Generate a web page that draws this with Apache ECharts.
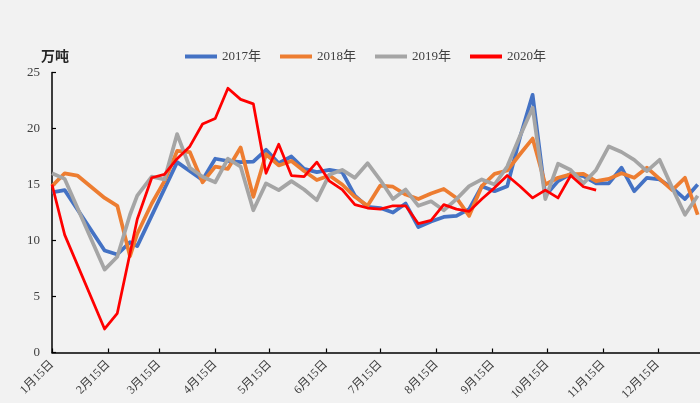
<!DOCTYPE html>
<html>
<head>
<meta charset="utf-8">
<script src="https://cdn.jsdelivr.net/npm/echarts@6/dist/echarts.min.js"></script>
<style>
html,body{margin:0;padding:0;background:#f2f2f2;}
#c{width:700px;height:403px;}
</style>
</head>
<body>
<div id="c"></div>
<script>
// day-of-year of each weekly observation
const days = [15,22,29,44,51,58,62,70,77,84,91,98,105,112,119,126,133,140,147,154,161,168,175,182,189,196,203,210,217,224,231,238,245,252,259,266,273,280,287,294,301,308,315,322,329,336,343,350,357,364,371];
const seriesNames = ['2017年','2018年','2019年','2020年'];
const v2017 = [14.3,14.5,null,9.1,8.75,9.85,9.5,null,null,17.0,null,15.4,17.3,17.1,17.0,17.05,18.1,16.9,17.5,16.4,16.1,16.3,16.1,14.0,13.0,12.9,12.5,13.3,11.2,11.7,12.1,12.2,12.8,14.85,14.4,14.85,19.2,23.0,14.0,15.3,15.95,15.75,15.1,15.1,16.5,14.4,15.6,15.45,14.7,13.7,15.0];
const v2018 = [14.85,16.0,15.8,13.8,13.1,8.6,10.6,13.3,15.3,18.0,17.9,15.2,16.6,16.4,18.3,13.9,17.7,16.7,17.1,16.2,15.4,15.8,15.0,13.9,13.1,14.9,14.8,14.1,13.7,14.2,14.6,13.8,12.2,14.85,15.95,16.25,17.7,19.1,15.0,15.6,15.9,15.95,15.3,15.5,16.0,15.6,16.5,15.5,14.5,15.6,12.3];
const v2019 = [16.0,15.5,null,7.4,8.55,12.3,14.0,15.7,15.45,19.5,16.5,15.7,15.2,17.3,16.6,12.7,15.1,14.5,15.3,14.55,13.6,15.9,16.3,15.6,16.9,15.4,13.7,14.55,13.1,13.5,12.7,13.7,14.85,15.45,15.0,16.6,19.3,21.85,13.7,16.85,16.3,15.1,16.3,18.4,17.9,17.2,16.2,17.2,14.7,12.3,14.0];
const v2020 = [15.0,10.5,null,2.1,3.5,null,11.9,15.6,15.9,17.3,18.4,20.4,20.9,23.6,22.6,22.2,16.0,18.6,15.8,15.7,17.0,15.3,14.55,13.2,12.9,12.8,13.1,13.1,11.5,11.8,13.2,12.8,12.6,13.7,14.7,15.8,14.85,13.8,14.5,13.8,15.8,14.8,14.5,null,null,null,null,null,null,null,null];
// x-axis ticks: the 15th of each month
const tickDays = [15,46,74,105,135,166,196,227,258,288,319,349];
const tickLabels = ['1月15日','2月15日','3月15日','4月15日','5月15日','6月15日','7月15日','8月15日','9月15日','10月15日','11月15日','12月15日'];
const yTicks = [0,5,10,15,20,25];
const unitLabel = '万吨';

const colors = ['#4472c4','#ed7d31','#a5a5a5','#ff0000'];
const widths = [3.75,3.75,3.75,2.75];
const FONT = "'Liberation Serif','Noto Sans CJK SC',serif";
const values = [v2017,v2018,v2019,v2020];

const chart = echarts.init(document.getElementById('c'), null, {renderer:'canvas'});
chart.setOption({
  backgroundColor:'#f2f2f2',
  animation:false,
  legend:{
    left:180, top:45,
    icon:'rect', itemWidth:32, itemHeight:4, itemGap:19,
    textStyle:{fontFamily:FONT, fontSize:13, color:'#404040'},
    data:seriesNames
  },
  graphic:[{
    type:'text', left:41, top:49,
    style:{text:unitLabel, font:"bold 14px 'Noto Sans CJK SC'", fill:'#262626'}
  }],
  grid:{left:52, top:72.5, width:662, height:280, outerBoundsMode:'none', containLabel:false},
  xAxis:{
    type:'value', min:15, max:380,
    splitLine:{show:false},
    axisLine:{show:true, lineStyle:{color:'#000', width:1.5}},
    axisTick:{show:true, inside:true, length:4, customValues:tickDays, lineStyle:{color:'#000', width:1.2}},
    axisLabel:{
      customValues:tickDays, rotate:45, margin:10,
      fontFamily:FONT, fontSize:12, color:'#404040',
      formatter:function(v){ const i = tickDays.indexOf(Math.round(v)); return i>=0 ? tickLabels[i] : ''; }
    }
  },
  yAxis:{
    type:'value', min:yTicks[0], max:yTicks[yTicks.length-1], interval:5,
    splitLine:{show:false},
    axisLine:{show:true, lineStyle:{color:'#000', width:1.5}},
    axisTick:{show:true, inside:true, length:4, lineStyle:{color:'#000', width:1.2}},
    axisLabel:{margin:12, fontFamily:FONT, fontSize:13, color:'#404040'}
  },
  series: seriesNames.map((n,k)=>({
    name:n, type:'line', showSymbol:false, symbol:'none', connectNulls:true,
    color:colors[k],
    lineStyle:{width:widths[k], color:colors[k], join:'round'},
    data: days.map((d,i)=>[d, values[k][i]])
  }))
});
</script>
</body>
</html>
